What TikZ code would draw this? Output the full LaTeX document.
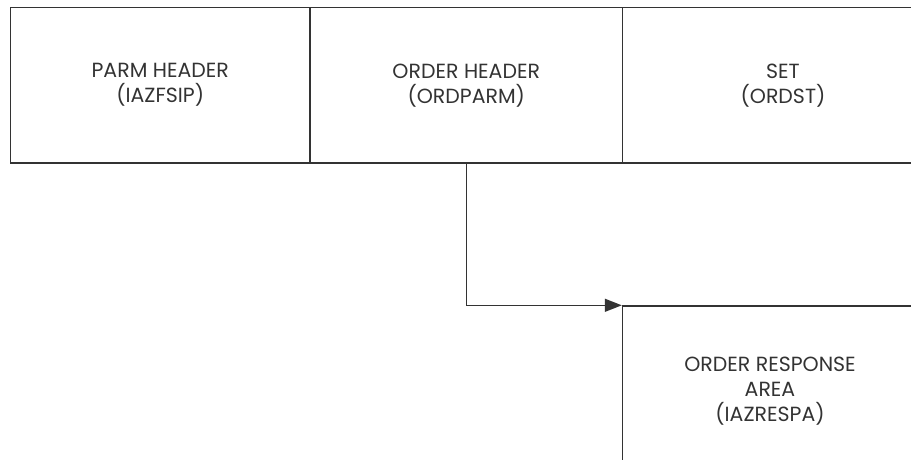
\documentclass[tikz,border=0pt]{standalone}
\usepackage{fontspec}
\setmainfont{Poppins}
\usetikzlibrary{arrows.meta}
\definecolor{ink}{HTML}{333333}
\tikzset{
  area/.style={draw=ink, line width=1.4pt, rectangle, align=center, text=ink,
    font=\fontsize{20.5}{25}\selectfont, inner sep=0pt},
  link/.style={draw=ink, line width=1.4pt, -{Triangle[length=17pt,width=13pt]}}
}
\begin{document}
\begin{tikzpicture}[x=1pt,y=-1pt]
	\useasboundingbox (0,0) rectangle (911,460);
	\clip (0,0) rectangle (911,460);
	% top row
	\node[area, minimum width=299.5pt, minimum height=155.5pt] (parm) at (160.25,85.25) {PARM HEADER\\(IAZFSIP)};
	\node[area, minimum width=312.5pt, minimum height=155.5pt] (order) at (466.25,85.25) {ORDER HEADER\\(ORDPARM)};
	\node[area, minimum width=321pt, minimum height=155.5pt] (set) at (783,85.25) {SET\\(ORDST)};
	% response area
	\node[area, minimum width=295pt, minimum height=170pt] (resp) at (770,391) {ORDER RESPONSE\\AREA\\(IAZRESPA)};
	\draw[link] (order.south) |- (resp.north west);
\end{tikzpicture}
\end{document}
